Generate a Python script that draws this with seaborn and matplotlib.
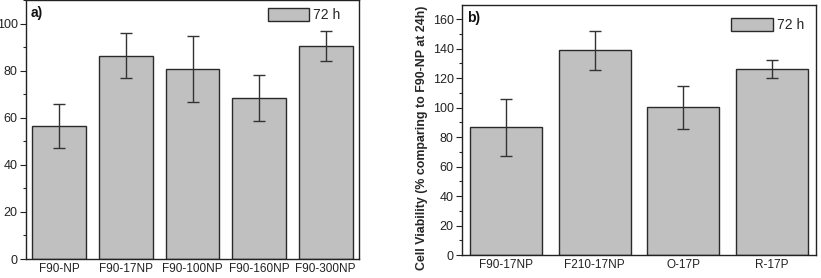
import matplotlib
matplotlib.use("Agg")
import matplotlib.pyplot as plt
import seaborn as sns
import pandas as pd
from matplotlib.ticker import MultipleLocator
from matplotlib.patches import Patch

# datos panel a)
cats_a = ["F90-NP", "F90-17NP", "F90-100NP", "F90-160NP", "F90-300NP"]
vals_a = [56.5, 86.5, 81.0, 68.7, 90.7]
err_a = [9.3, 9.7, 14.0, 9.8, 6.3]

# datos panel b)
cats_b = ["F90-17NP", "F210-17NP", "O-17P", "R-17P"]
vals_b = [86.6, 138.7, 100.1, 126.2]
err_b = [19.5, 13.1, 14.7, 6.3]

sns.set_theme(style="white")
plt.rcParams['font.family'] = ['Liberation Sans', 'DejaVu Sans']

W, H = 821, 278
fig = plt.figure(figsize=(W / 100, H / 100), dpi=100)

ax1 = fig.add_axes([26 / W, 19 / H, 333 / W, 259 / H])
ax2 = fig.add_axes([462 / W, 23 / H, 354 / W, 250 / H])

bar_color = "#c0c0c0"
edge = "#2a2a2a"


def panel(ax, cats, vals, errs, ymax, label, leg_pos):
    df = pd.DataFrame({"cat": cats, "val": vals})
    sns.barplot(data=df, x="cat", y="val", ax=ax, color=bar_color,
                edgecolor=edge, linewidth=1.0, width=0.81, saturation=1)
    ax.errorbar(range(len(cats)), vals, yerr=errs, fmt="none",
                ecolor="#333333", elinewidth=1.0, capsize=4, capthick=1.0)
    ax.set_xlim(-0.5, len(cats) - 0.5)
    ax.set_ylim(0, ymax)
    ax.set_xlabel("")
    ax.set_ylabel("")
    ax.yaxis.set_major_locator(MultipleLocator(20))
    ax.yaxis.set_minor_locator(MultipleLocator(10))
    ax.tick_params(axis="y", which="major", direction="out", length=4,
                   width=0.8, left=True, labelsize=9, colors="#222222", pad=2)
    ax.tick_params(axis="y", which="minor", direction="out", length=2,
                   width=0.8, left=True)
    ax.tick_params(axis="x", length=0, labelsize=8.5, colors="#222222", pad=3)
    for s in ax.spines.values():
        s.set_color("#222222")
        s.set_linewidth(1.0)
    ax.text(0.015, 0.975, label, transform=ax.transAxes, fontsize=10,
            fontweight="bold", va="top", ha="left", color="#111111")
    handle = Patch(facecolor=bar_color, edgecolor=edge, linewidth=1.0)
    ax.legend([handle], ["72 h"], loc="upper right", bbox_to_anchor=leg_pos,
              frameon=False, fontsize=10, handlelength=3.0, handleheight=1.0,
              handletextpad=0.3, borderaxespad=0.2)


panel(ax1, cats_a, vals_a, err_a, 110.2, "a)", (0.97, 1.0))
panel(ax2, cats_b, vals_b, err_b, 169.5, "b)", (0.99, 0.98))

ax2.set_ylabel("Cell Viability (% comparing to F90-NP at 24h)",
               fontsize=8.9, fontweight="bold")
ax2.yaxis.set_label_coords(-0.095, 0.47)

fig.savefig("out.png", dpi=100)
